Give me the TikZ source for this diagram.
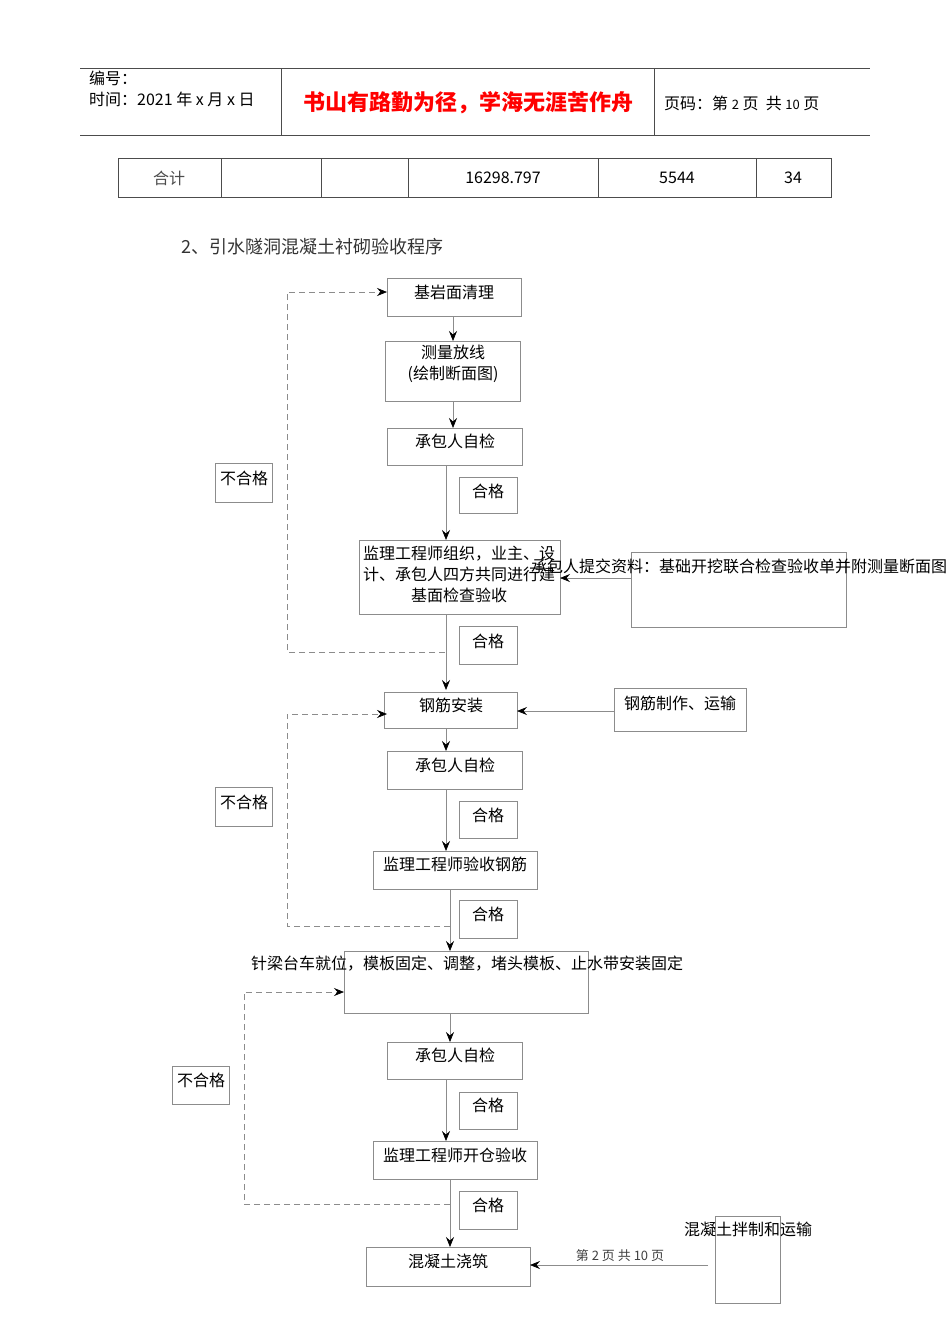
\documentclass[tikz,border=0pt]{standalone}
\usepackage{fontspec}
\setmainfont{Liberation Sans}
\newfontfamily\cjk{Noto Sans CJK SC}
\usetikzlibrary{arrows.meta}
\begin{document}
\begin{tikzpicture}[x=1pt,y=-1pt,
  bx/.style={draw=black!45,line width=0.7pt},
  ln/.style={draw=black!45,line width=0.7pt},
  arr/.style={ln,-{Stealth[length=10pt,width=8pt,inset=3.5pt,black]}},
  dsh/.style={draw=black!45,dash pattern=on 6pt off 4pt,line width=0.7pt},
  darr/.style={dsh,-{Stealth[length=10pt,width=8pt,inset=3.5pt,black]}},
  tx/.style={font=\cjk\fontsize{16}{21}\selectfont,inner sep=0pt,align=center}]
\useasboundingbox (0,0) rectangle (950,1344);
% header
\draw[line width=0.8pt,black!70] (80,68) -- (870,68) (80,135) -- (870,135) (281,68) -- (281,135) (654,68) -- (654,135);
\node[tx,anchor=west,align=left] (h1) at (89,89) {编号：\\时间：2021 年 x 月 x 日};
\node[tx,text=red,font=\cjk\bfseries\fontsize{22}{25}\selectfont] (h2) at (468,103) {书山有路勤为径，学海无涯苦作舟};
\node[tx,anchor=west] (h3) at (664,103) {页码：第 {\fontsize{13}{14}\selectfont 2} 页\ \ 共 {\fontsize{13}{14}\selectfont 10} 页};
% table
\draw[line width=0.8pt,black!70] (118,158) rectangle (831,197);
\foreach \x in {221,321,408,598,756} \draw[line width=0.8pt,black!70] (\x,158) -- (\x,197);
\node[tx,text=black!70] (t1) at (169,178) {合计};
\node[tx] (t2) at (503,178) {16298.797};
\node[tx] (t3) at (677,178) {5544};
\node[tx] (t4) at (793,178) {34};
\node[tx,anchor=west,text=black!80,font=\cjk\fontsize{18}{21}\selectfont] (title) at (181,247) {2、引水隧洞混凝土衬砌验收程序};
% boxes
\draw[bx] (387,278) rectangle (521,316); \node[tx] (a1) at (454,292) {基岩面清理};
\draw[bx] (385,341) rectangle (520,401); \node[tx] (a2) at (453,364) {测量放线\\(绘制断面图)};
\draw[bx] (387,428) rectangle (522,465); \node[tx] (a3) at (455,441) {承包人自检};
\draw[bx] (459,477) rectangle (517,513); \node[tx] (q1) at (488,491) {合格};
\draw[bx] (215,463) rectangle (272,502); \node[tx] (n1) at (244,478) {不合格};
\draw[bx] (359,540) rectangle (560,614); \node[tx] (a4) at (459,574) {监理工程师组织，业主、设\\计、承包人四方共同进行建\\基面检查验收};
\draw[bx] (631,552) rectangle (846,627); \node[tx] (r1) at (739,566) {承包人提交资料：基础开挖联合检查验收单并附测量断面图};
\draw[bx] (459,626) rectangle (517,664); \node[tx] (q2) at (488,641) {合格};
\draw[bx] (384,692) rectangle (517,728); \node[tx] (b1) at (451,705) {钢筋安装};
\draw[bx] (614,688) rectangle (746,731); \node[tx] (r2) at (680,703) {钢筋制作、运输};
\draw[bx] (387,751) rectangle (522,789); \node[tx] (b2) at (455,765) {承包人自检};
\draw[bx] (459,801) rectangle (517,838); \node[tx] (q3) at (488,815) {合格};
\draw[bx] (215,787) rectangle (272,826); \node[tx] (n2) at (244,802) {不合格};
\draw[bx] (373,851) rectangle (537,889); \node[tx] (b3) at (455,864) {监理工程师验收钢筋};
\draw[bx] (459,900) rectangle (517,938); \node[tx] (q4) at (488,914) {合格};
\draw[bx] (344,951) rectangle (588,1013); \node[tx] (c1) at (467,964) {针梁台车就位，模板固定、调整，堵头模板、止水带安装固定};
\draw[bx] (387,1042) rectangle (522,1079); \node[tx] (c2) at (455,1055) {承包人自检};
\draw[bx] (459,1092) rectangle (517,1129); \node[tx] (q5) at (488,1105) {合格};
\draw[bx] (172,1066) rectangle (229,1104); \node[tx] (n3) at (201,1080) {不合格};
\draw[bx] (373,1141) rectangle (537,1179); \node[tx] (c3) at (455,1155) {监理工程师开仓验收};
\draw[bx] (459,1191) rectangle (517,1229); \node[tx] (q6) at (488,1205) {合格};
\draw[bx] (366,1247) rectangle (530,1286); \node[tx] (d1) at (448,1261) {混凝土浇筑};
\draw[bx] (715,1216) rectangle (780,1303); \node[tx] (r3) at (748,1229) {混凝土拌制和运输};
\node[tx,font=\cjk\fontsize{13}{14}\selectfont,text=black!75] (pg) at (620,1256) {第\ 2\ 页\ 共\ 10\ 页};
% arrows
\draw[arr] (453,316) -- (453,341);
\draw[arr] (453,401) -- (453,428);
\draw[arr] (446,465) -- (446,540);
\draw[arr] (631,578) -- (560,578);
\draw[arr] (446,614) -- (446,690);
\draw[arr] (614,711) -- (517,711);
\draw[arr] (446,728) -- (446,751);
\draw[arr] (446,789) -- (446,851);
\draw[arr] (450,889) -- (450,951);
\draw[arr] (450,1013) -- (450,1042);
\draw[arr] (446,1079) -- (446,1141);
\draw[arr] (450,1179) -- (450,1247);
\draw[arr] (708,1265) -- (530,1265);
% dashed loops
\draw[darr] (445,652) -- (287,652) -- (287,292) -- (387,292);
\draw[darr] (450,926) -- (287,926) -- (287,714) -- (387,714);
\draw[darr] (450,1204) -- (244,1204) -- (244,992) -- (344,992);
\end{tikzpicture}
\end{document}
